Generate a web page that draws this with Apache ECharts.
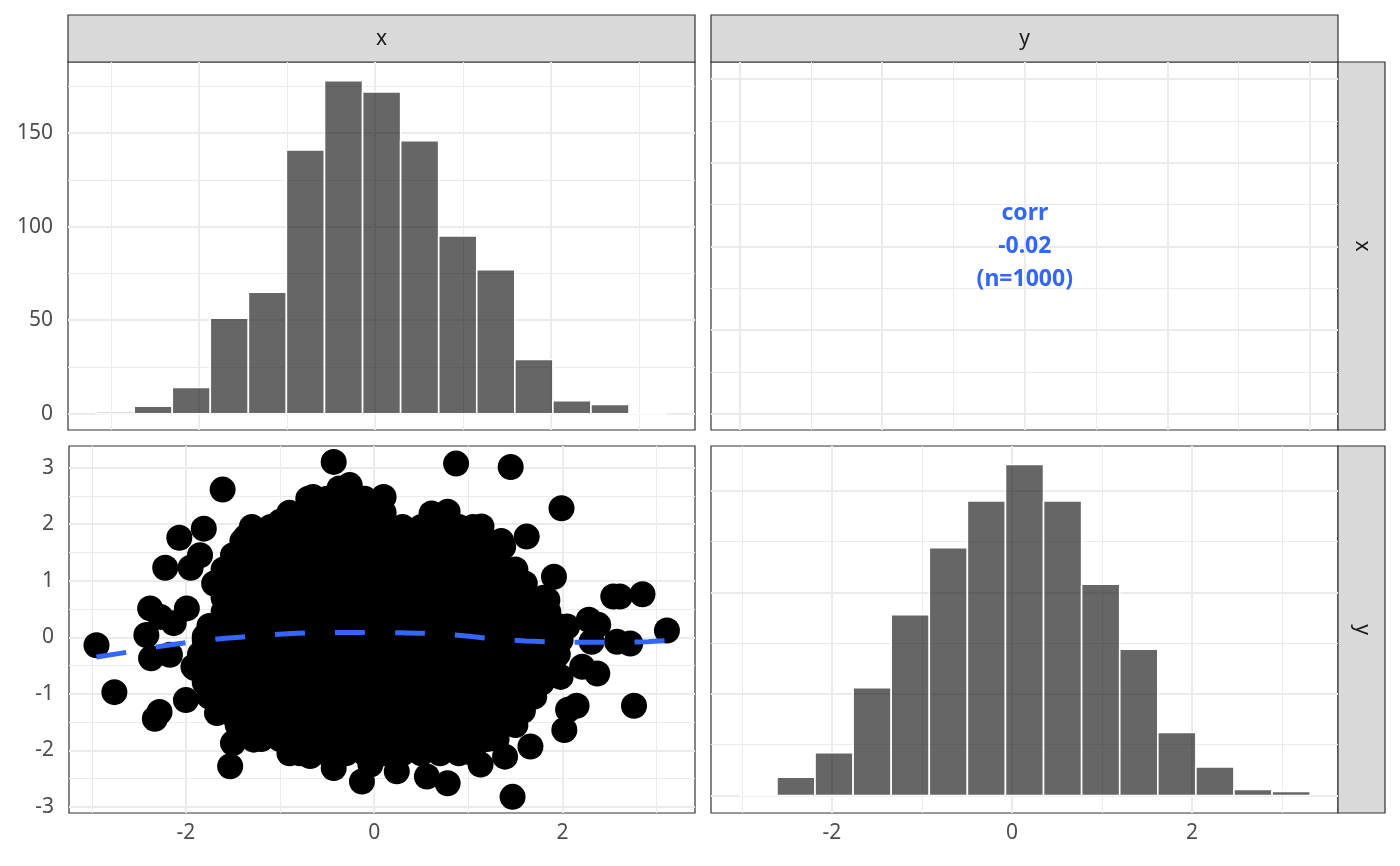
<!DOCTYPE html>
<html>
<head>
<meta charset="utf-8">
<script src="https://cdn.jsdelivr.net/npm/echarts@6/dist/echarts.min.js"></script>
<style>
  html, body { margin: 0; padding: 0; background: #ffffff; }
  #chart { width: 1400px; height: 866px; }
</style>
</head>
<body>
<div id="chart"></div>
<script>
// ---- data ----
// histogram of x (top-left), bin centres and counts
const xBinWidth = 0.4325;
const xHistCenters = [-2.950, -2.518, -2.085, -1.653, -1.220, -0.788, -0.355, 0.078, 0.510, 0.943, 1.375, 1.808, 2.240, 2.673, 3.105];
const xHistCounts = [1, 4, 14, 51, 65, 141, 178, 172, 146, 95, 77, 29, 7, 5, 0];

// histogram of y (bottom-right)
const yBinWidth = 0.423;
const yHistCenters = [-2.822, -2.399, -1.976, -1.553, -1.130, -0.707, -0.284, 0.139, 0.562, 0.985, 1.408, 1.831, 2.254, 2.677, 3.100];
const yHistCounts = [0, 9, 21, 53, 89, 122, 145, 163, 145, 104, 72, 31, 14, 3, 2];

// scatter: the isolated points around the cloud
const scatterOuter = [
  [-2.95, -0.14], [-2.76, -0.97], [-2.28, -1.32], [-2.33, -1.44], [-1.61, 2.61], [-0.43, 3.10],
  [-2.07, 1.76], [-1.81, 1.92], [-1.85, 1.45], [-1.95, 1.23], [-2.22, 1.23], [-2.38, 0.51],
  [-2.13, 0.25], [-1.99, 0.51], [-2.42, 0.04], [-2.37, -0.37], [-2.17, -0.31], [-2.27, 0.36],
  [-2.00, -1.11], [-1.53, -2.28], [-1.50, -1.87], [-1.28, -1.81], [-1.69, 0.95], [-1.36, 1.78],
  [-1.80, 0.01], [-1.92, -0.52], [-1.67, -1.34], [-1.50, -1.37], [-0.79, -2.05], [-0.68, -2.10],
  [-0.43, -2.31], [-0.13, -2.55], [-0.04, -2.25], [-0.26, 2.69], [-0.37, 2.63], [-0.65, 2.48],
  [-1.00, 2.04], [-1.14, 1.90], [0.87, 3.07], [1.45, 3.01], [1.99, 2.28], [1.91, 1.07],
  [1.62, 1.78], [1.14, 1.96], [0.78, 2.22], [0.61, 2.19], [0.10, 2.48], [1.37, 1.60],
  [2.54, 0.72], [2.61, 0.72], [2.85, 0.76], [3.11, 0.12], [2.28, 0.31], [2.38, 0.22],
  [2.31, -0.08], [2.58, -0.08], [2.72, -0.11], [2.21, -0.52], [2.37, -0.64], [2.76, -1.21],
  [2.15, -1.21], [2.06, -1.28], [2.02, -1.64], [1.66, -1.93], [1.47, -2.82], [1.39, -2.11],
  [1.13, -2.25], [0.78, -2.58], [0.56, -2.46], [0.24, -2.37], [1.98, -0.70], [2.05, 0.19],
  [1.84, 0.66]
];

// scatter: the solid cloud, read row by row (y level, x positions)
const coreRowY = [2.45, 2.2, 1.95, 1.7, 1.45, 1.2, 0.95, 0.7, 0.45, 0.2, -0.05, -0.3, -0.55, -0.8, -1.05, -1.3, -1.55, -1.8, -2.05];
const coreRowX = [
  [-0.7, -0.5, -0.3, -0.1],
  [-0.9, -0.7, -0.5, -0.3, -0.1, 0.1],
  [-1.3, -1.1, -0.9, -0.7, -0.5, -0.3, -0.1, 0.1, 0.3, 0.5, 0.7, 0.9, 1.05],
  [-1.4, -1.2, -1.0, -0.8, -0.6, -0.4, -0.2, 0.0, 0.2, 0.4, 0.6, 0.8, 1.0, 1.2, 1.35],
  [-1.5, -1.3, -1.1, -0.9, -0.7, -0.5, -0.3, -0.1, 0.1, 0.3, 0.5, 0.7, 0.9, 1.1, 1.3],
  [-1.6, -1.4, -1.2, -1.0, -0.8, -0.6, -0.4, -0.2, 0.0, 0.2, 0.4, 0.6, 0.8, 1.0, 1.2, 1.4, 1.5],
  [-1.7, -1.5, -1.3, -1.1, -0.9, -0.7, -0.5, -0.3, -0.1, 0.1, 0.3, 0.5, 0.7, 0.9, 1.1, 1.3, 1.5, 1.6],
  [-1.6, -1.4, -1.2, -1.0, -0.8, -0.6, -0.4, -0.2, 0.0, 0.2, 0.4, 0.6, 0.8, 1.0, 1.2, 1.4, 1.6, 1.8],
  [-1.6, -1.5, -1.3, -1.1, -0.9, -0.7, -0.5, -0.3, -0.1, 0.1, 0.3, 0.5, 0.7, 0.9, 1.1, 1.3, 1.5, 1.7, 1.85],
  [-1.75, -1.6, -1.4, -1.2, -1.0, -0.8, -0.6, -0.4, -0.2, 0.0, 0.2, 0.4, 0.6, 0.8, 1.0, 1.2, 1.4, 1.6, 1.8, 1.95],
  [-1.8, -1.7, -1.5, -1.3, -1.1, -0.9, -0.7, -0.5, -0.3, -0.1, 0.1, 0.3, 0.5, 0.7, 0.9, 1.1, 1.3, 1.5, 1.7, 1.9, 1.98],
  [-1.85, -1.6, -1.4, -1.2, -1.0, -0.8, -0.6, -0.4, -0.2, 0.0, 0.2, 0.4, 0.6, 0.8, 1.0, 1.2, 1.4, 1.6, 1.8, 1.95],
  [-1.9, -1.7, -1.5, -1.3, -1.1, -0.9, -0.7, -0.5, -0.3, -0.1, 0.1, 0.3, 0.5, 0.7, 0.9, 1.1, 1.3, 1.5, 1.7, 1.9],
  [-1.8, -1.6, -1.4, -1.2, -1.0, -0.8, -0.6, -0.4, -0.2, 0.0, 0.2, 0.4, 0.6, 0.8, 1.0, 1.2, 1.4, 1.6, 1.78],
  [-1.75, -1.5, -1.3, -1.1, -0.9, -0.7, -0.5, -0.3, -0.1, 0.1, 0.3, 0.5, 0.7, 0.9, 1.1, 1.3, 1.5, 1.7],
  [-1.65, -1.4, -1.2, -1.0, -0.8, -0.6, -0.4, -0.2, 0.0, 0.2, 0.4, 0.6, 0.8, 1.0, 1.2, 1.4, 1.58],
  [-1.45, -1.3, -1.1, -0.9, -0.7, -0.5, -0.3, -0.1, 0.1, 0.3, 0.5, 0.7, 0.9, 1.1, 1.3, 1.5],
  [-1.2, -1.0, -0.8, -0.6, -0.4, -0.2, 0.0, 0.2, 0.4, 0.6, 0.8, 1.0, 1.2, 1.3],
  [-0.9, -0.7, -0.5, -0.3, -0.1, 0.1, 0.3, 0.5, 0.7, 0.9, 1.05]
];

// loess smooth (dashed blue)
const smoothX = [-2.95, -2.63, -2.31, -1.98, -1.66, -1.34, -1.01, -0.68, -0.35, -0.02, 0.29, 0.62, 0.95, 1.28, 1.61, 1.92, 2.26, 2.58, 2.91, 3.11];
const smoothY = [-0.35, -0.265, -0.17, -0.09, -0.03, 0.015, 0.055, 0.078, 0.085, 0.082, 0.078, 0.066, 0.025, -0.03, -0.065, -0.082, -0.088, -0.087, -0.078, -0.06];

// correlation panel text
const corrLines = ['corr', '-0.02', '(n=1000)'];

// strip labels
const colLabels = ['x', 'y'];
const rowLabels = ['x', 'y'];

// tick labels
const countTicks = [0, 50, 100, 150];
const xTicks = [-2, 0, 2];
const yTicks = [-3, -2, -1, 0, 1, 2, 3];

// ---- layout / style ----
const FONT = 'Noto Sans';
const GRID_COL = '#EBEBEB';
const BORDER = '#333333';

const panels = [
  { left: 68, top: 62, width: 627, height: 368 },   // 0 top-left
  { left: 711, top: 62, width: 627, height: 368 },  // 1 top-right
  { left: 69, top: 446, width: 626, height: 367 },  // 2 bottom-left
  { left: 711, top: 446, width: 627, height: 367 }  // 3 bottom-right
];

// gridlines per panel: [vertical major, vertical minor, horizontal major, horizontal minor]
const gridLines = [
  [[-2, 0, 2], [-3, -1, 1, 3], [0, 50, 100, 150], [25, 75, 125, 175]],
  [[-2, -1, 0, 1, 2], [-1.5, -0.5, 0.5, 1.5], [-2, -1, 0, 1, 2], [-1.5, -0.5, 0.5, 1.5]],
  [[-2, 0, 2], [-3, -1, 1, 3], [-3, -2, -1, 0, 1, 2, 3], [-2.5, -1.5, -0.5, 0.5, 1.5, 2.5]],
  [[-2, 0, 2], [-3, -1, 1, 3], [0, 50, 100, 150], [25, 75, 125]]
];

const xRange = [[-3.486, 3.639], [-2.2, 2.196], [-3.242, 3.408], [-3.343, 3.621]];
const yRange = [[-8.7, 188], [-2.195, 2.205], [-3.106, 3.381], [-8.65, 172.1]];

const scatterData = scatterOuter.slice();
coreRowY.forEach((y, i) => {
  coreRowX[i].forEach(x => scatterData.push([x, y]));
});

function axis(i, dim, ticks) {
  const shown = !!ticks;
  const range = dim === 'x' ? xRange[i] : yRange[i];
  return {
    type: 'value',
    gridIndex: i,
    min: range[0],
    max: range[1],
    axisLine: { show: false },
    splitLine: { show: false },
    axisTick: {
      show: shown,
      customValues: ticks || undefined,
      length: 6,
      lineStyle: { color: BORDER, width: 1.6 }
    },
    axisLabel: {
      show: shown,
      customValues: ticks || undefined,
      margin: dim === 'x' ? 10 : 15,
      color: '#4D4D4D',
      fontSize: 21,
      fontFamily: FONT
    }
  };
}

function gridLineSeries(i) {
  const g = gridLines[i];
  const items = [];
  g[1].forEach(v => items.push({ xAxis: v, lineStyle: { color: GRID_COL, width: 1, type: 'solid' } }));
  g[3].forEach(v => items.push({ yAxis: v, lineStyle: { color: GRID_COL, width: 1, type: 'solid' } }));
  g[0].forEach(v => items.push({ xAxis: v, lineStyle: { color: GRID_COL, width: 2, type: 'solid' } }));
  g[2].forEach(v => items.push({ yAxis: v, lineStyle: { color: GRID_COL, width: 2, type: 'solid' } }));
  return {
    type: 'line',
    xAxisIndex: i,
    yAxisIndex: i,
    data: [],
    z: 1,
    silent: true,
    markLine: {
      z: 1,
      silent: true,
      symbol: ['none', 'none'],
      label: { show: false },
      animation: false,
      data: items
    }
  };
}

function histSeries(i, centers, counts, binWidth) {
  return {
    type: 'custom',
    xAxisIndex: i,
    yAxisIndex: i,
    z: 2,
    data: centers.map((c, k) => [c, counts[k]]),
    renderItem: function (params, api) {
      const c = api.value(0);
      const n = api.value(1);
      const p0 = api.coord([c - binWidth / 2, n]);
      const p1 = api.coord([c + binWidth / 2, 0]);
      return {
        type: 'rect',
        shape: { x: p0[0], y: p0[1], width: p1[0] - p0[0], height: p1[1] - p0[1] },
        style: { fill: 'rgba(0,0,0,0.6)', stroke: '#ffffff', lineWidth: 1.6 }
      };
    }
  };
}

// strips (facet labels)
const graphics = [];
const stripTop = 15;
[0, 1].forEach(c => {
  const p = panels[c];
  graphics.push({
    type: 'rect',
    shape: { x: p.left, y: stripTop, width: p.width, height: p.top - stripTop },
    style: { fill: '#D9D9D9', stroke: BORDER, lineWidth: 1.2 }
  });
  graphics.push({
    type: 'text',
    x: p.left + p.width / 2,
    y: (stripTop + p.top) / 2 + 1,
    style: {
      text: colLabels[c], fill: '#1A1A1A', fontSize: 21, fontFamily: FONT,
      align: 'center', verticalAlign: 'middle', textAlign: 'center', textVerticalAlign: 'middle'
    }
  });
});
[1, 3].forEach((pi, r) => {
  const p = panels[pi];
  const x0 = p.left + p.width;
  graphics.push({
    type: 'rect',
    shape: { x: x0, y: p.top, width: 47, height: p.height },
    style: { fill: '#D9D9D9', stroke: BORDER, lineWidth: 1.2 }
  });
  graphics.push({
    type: 'text',
    x: x0 + 23.5,
    y: p.top + p.height / 2,
    rotation: -Math.PI / 2,
    style: {
      text: rowLabels[r], fill: '#1A1A1A', fontSize: 21, fontFamily: FONT,
      align: 'center', verticalAlign: 'middle', textAlign: 'center', textVerticalAlign: 'middle'
    }
  });
});

const chart = echarts.init(document.getElementById('chart'), null, { renderer: 'canvas' });

chart.setOption({
  animation: false,
  backgroundColor: '#ffffff',
  grid: panels.map(p => ({
    left: p.left, top: p.top, width: p.width, height: p.height,
    show: true, backgroundColor: '#ffffff', borderColor: BORDER, borderWidth: 1.2,
    containLabel: false, outerBoundsMode: 'none'
  })),
  xAxis: [
    axis(0, 'x', null),
    axis(1, 'x', null),
    axis(2, 'x', xTicks),
    axis(3, 'x', xTicks)
  ],
  yAxis: [
    axis(0, 'y', countTicks),
    axis(1, 'y', null),
    axis(2, 'y', yTicks),
    axis(3, 'y', null)
  ],
  graphic: graphics,
  series: [
    gridLineSeries(0),
    gridLineSeries(1),
    gridLineSeries(2),
    gridLineSeries(3),
    histSeries(0, xHistCenters, xHistCounts, xBinWidth),
    histSeries(3, yHistCenters, yHistCounts, yBinWidth),
    {
      type: 'scatter',
      xAxisIndex: 2,
      yAxisIndex: 2,
      z: 3,
      symbol: 'circle',
      symbolSize: 26,
      itemStyle: { color: '#000000', opacity: 1 },
      data: scatterData
    },
    {
      type: 'line',
      xAxisIndex: 2,
      yAxisIndex: 2,
      z: 4,
      smooth: 0.3,
      symbol: 'none',
      lineStyle: { color: '#3366FF', width: 5, type: [30, 30] },
      data: smoothX.map((x, k) => [x, smoothY[k]])
    },
    {
      type: 'scatter',
      xAxisIndex: 1,
      yAxisIndex: 1,
      z: 3,
      symbolSize: 1,
      itemStyle: { color: 'rgba(0,0,0,0)' },
      label: {
        show: true,
        position: 'inside',
        formatter: corrLines.join('\n'),
        color: '#3366FF',
        opacity: 1,
        textBorderWidth: 0,
        fontFamily: FONT,
        fontWeight: 'bold',
        fontSize: 23,
        lineHeight: 33
      },
      data: [[0, 0]]
    }
  ]
});
</script>
</body>
</html>
